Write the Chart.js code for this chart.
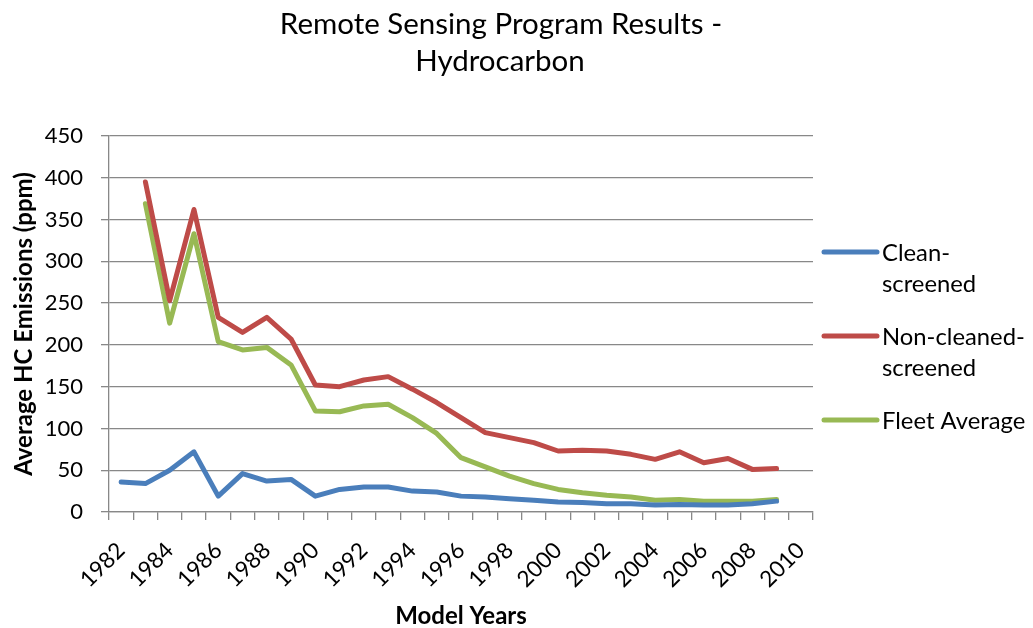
<!DOCTYPE html>
<html><head><meta charset="utf-8">
<script src="https://cdn.jsdelivr.net/npm/chart.js@4.4.1/dist/chart.umd.min.js"></script>
<style>html,body{margin:0;padding:0;background:#fff}#wrap{width:1033px;height:628px;position:relative}</style>
</head><body><div id="wrap"><canvas id="c"></canvas></div>
<script>
const years = ['1982','1983','1984','1985','1986','1987','1988','1989','1990','1991','1992','1993','1994','1995','1996','1997','1998','1999','2000','2001','2002','2003','2004','2005','2006','2007','2008','2009','2010'];
const tickLabels = ['1982','1984','1986','1988','1990','1992','1994','1996','1998','2000','2002','2004','2006','2008','2010'];
const cleanScreened = [36,34,50,72,19,46,37,39,19,27,30,30,25,24,19,18,16,14,12,11.5,10,10,8.5,9,8.5,8.5,10,13,null];
const nonCleanedScreened = [null,395,253,362,233,215,233,207,152,150,158,162,147,131,113,95,89,83,73,74,73,69,63,72,59,64,51,52,null];
const fleetAverage = [null,369,226,333,204,194,197,176,121,120,127,129,113,94,65,54,43,34,27,23,20,18,14,15,13,13,13,15,null];
const seriesNames = ['Clean-screened','Non-cleaned-screened','Fleet Average'];
const legendLines = [['Clean-','screened'],['Non-cleaned-','screened'],['Fleet Average']];
const seriesColors = ['#4A7EBB','#BE4B48','#98B954'];
const titleLines = ['Remote Sensing Program Results -','Hydrocarbon'];
const yTitle = 'Average HC Emissions (ppm)';
const xTitle = 'Model Years';

const FONT = 'Lato';
const GRID = '#888888';

const textPlugin = {
  id: 'textPlugin',
  afterDraw(chart) {
    const ctx = chart.ctx;
    ctx.save();
    // title
    ctx.fillStyle = '#000';
    ctx.textAlign = 'center';
    ctx.textBaseline = 'middle';
    ctx.font = '29.5px ' + FONT;
    ctx.fillText(titleLines[0], 501, 24);
    ctx.fillText(titleLines[1], 500, 61);
    // legend
    const lx0 = 824, lx1 = 877, tx = 882;
    const ys = [252, 336, 420];
    chart.data.datasets.forEach((ds, i) => {
      ctx.strokeStyle = ds.borderColor;
      ctx.lineWidth = 5;
      ctx.lineCap = 'round';
      ctx.beginPath();
      ctx.moveTo(lx0, ys[i]);
      ctx.lineTo(lx1, ys[i]);
      ctx.stroke();
      ctx.fillStyle = '#000';
      ctx.textAlign = 'left';
      ctx.textBaseline = 'middle';
      ctx.font = '23.8px ' + FONT;
      legendLines[i].forEach((t, j) => ctx.fillText(t, tx, ys[i] + 1 + j * 31));
    });
    ctx.restore();
  }
};

const mkDs = (label, data, color) => ({
  label, data, borderColor: color, backgroundColor: color,
  borderWidth: 5, pointRadius: 0, pointHoverRadius: 0, tension: 0,
  borderJoinStyle: 'round', borderCapStyle: 'round', fill: false
});

new Chart(document.getElementById('c'), {
  type: 'line',
  data: {
    labels: years,
    datasets: [
      mkDs(seriesNames[0], cleanScreened, seriesColors[0]),
      mkDs(seriesNames[1], nonCleanedScreened, seriesColors[1]),
      mkDs(seriesNames[2], fleetAverage, seriesColors[2])
    ]
  },
  options: {
    responsive: true,
    maintainAspectRatio: false,
    animation: false,
    layout: { padding: { left: 0, right: 220, top: 136, bottom: 0 } },
    plugins: { legend: { display: false }, title: { display: false }, tooltip: { enabled: false } },
    scales: {
      x: {
        type: 'category',
        offset: true,
        afterFit(s) { s.height = 116; },
        grid: { offset: true, drawOnChartArea: false, drawTicks: true, tickLength: 8, color: GRID, lineWidth: 1.3 },
        border: { display: true, color: GRID, width: 1.3 },
        ticks: {
          autoSkip: false, minRotation: 45, maxRotation: 45, padding: 17, labelOffset: 0,
          color: '#000', font: { family: FONT, size: 22.5 },
          callback: (v, i) => tickLabels.includes(years[i]) ? years[i] : ''
        },
        title: { display: true, text: xTitle, color: '#000', font: { family: FONT, size: 24, weight: 'bold', lineHeight: 1 }, padding: { top: 0, bottom: 0 } }
      },
      y: {
        min: 0, max: 450,
        afterFit(s) { s.width = 109; },
        grid: { drawTicks: true, tickLength: 8, color: GRID, lineWidth: 1.3 },
        border: { display: true, color: GRID, width: 1.3 },
        ticks: { stepSize: 50, padding: 18, color: '#000', font: { family: FONT, size: 22 } },
        title: { display: true, text: yTitle, color: '#000', font: { family: FONT, size: 24, weight: 'bold' }, padding: { top: 10, bottom: 0 } }
      }
    }
  },
  plugins: [textPlugin]
});
</script>
</body></html>
